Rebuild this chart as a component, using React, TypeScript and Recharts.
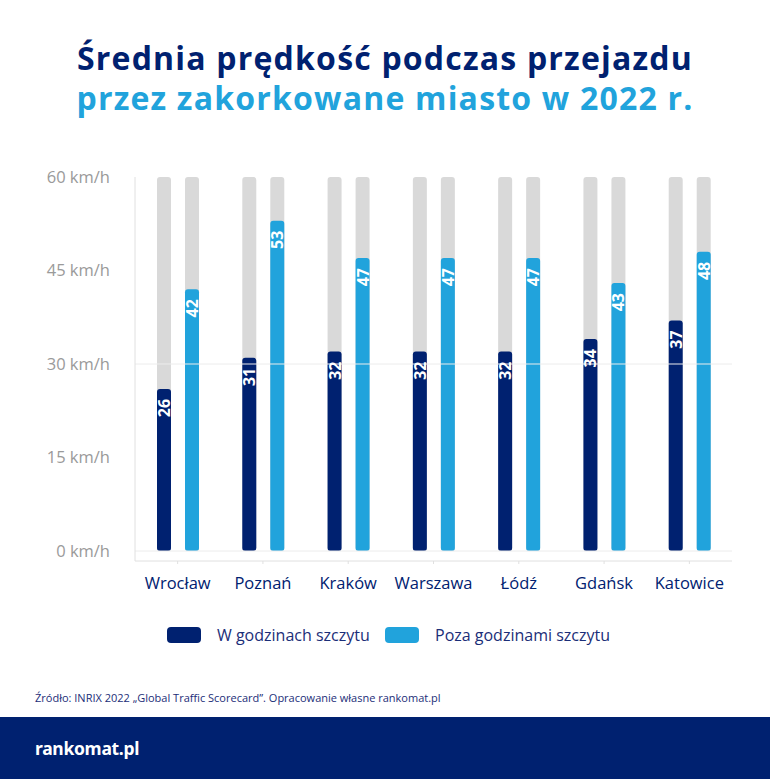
import {
  BarChart,
  Bar,
  XAxis,
  YAxis,
  ReferenceLine,
  LabelList
} from 'recharts'

const cities = ['Wrocław', 'Poznań', 'Kraków', 'Warszawa', 'Łódź', 'Gdańsk', 'Katowice'];
const peakSpeed = [26, 31, 32, 32, 32, 34, 37];
const offPeakSpeed = [42, 53, 47, 47, 47, 43, 48];
const yTicks = [0, 15, 30, 45, 60];

const NAVY = '#002170';
const BLUE = '#21a3dc';
const TRACK = '#d9d9d9';
const FONT = "'Open Sans', 'DejaVu Sans', sans-serif";

const data = cities.map((city, i) => ({
  city,
  peak: peakSpeed[i],
  offPeak: offPeakSpeed[i]
}));

// bar with a grey track behind it, running from the top of the plot (60) to the baseline
const trackBar = (color: string) => (props: any) => {
  const { x, y, width, height, background } = props;
  const bottom = y + height;
  return (
    <g>
      <rect x={x} y={background.y} width={width} height={bottom - background.y} rx={3} fill={TRACK} />
      <rect x={x} y={y} width={width} height={height} rx={3} fill={color} />
    </g>
  );
};

// vertical white value inside the top of the bar
const barLabel = (props: any) => {
  const { x, y, width, value } = props;
  const cx = x + width / 2;
  const ty = y + 10;
  return (
    <text
      x={cx}
      y={ty}
      transform={`rotate(-90 ${cx} ${ty})`}
      textAnchor="end"
      dominantBaseline="central"
      fill="#fff"
      fontSize={16}
      fontWeight={700}
      fontFamily={FONT}
    >
      {value}
    </text>
  );
};

const LegendItem = ({ color, text, left }: { color: string; text: string; left: number }) => (
  <div style={{ position: 'absolute', left, top: 0, display: 'flex', alignItems: 'center', whiteSpace: 'nowrap' }}>
    <div style={{ width: 34, height: 16, borderRadius: 4, background: color, marginRight: 16 }} />
    <span style={{ fontSize: 16, color: '#1b2e78' }}>{text}</span>
  </div>
);

export default function App() {
  return (
    <div
      style={{
        position: 'absolute',
        top: 0,
        left: 0,
        width: 770,
        height: 779,
        background: '#fff',
        overflow: 'hidden',
        fontFamily: FONT
      }}
    >
      <div style={{ position: 'absolute', top: 38, width: 770, textAlign: 'center', fontWeight: 700, fontSize: 32, letterSpacing: 1.2, lineHeight: '40px' }}>
        <div style={{ color: NAVY }}>Średnia prędkość podczas przejazdu</div>
        <div style={{ color: BLUE }}>przez zakorkowane miasto w 2022 r.</div>
      </div>

      <div style={{ position: 'absolute', top: 150, left: 0 }}>
        <BarChart
          width={770}
          height={460}
          data={data}
          margin={{ top: 27, right: 38, bottom: 19, left: 0 }}
          barSize={14}
          barGap={14}
        >
          <ReferenceLine y={30} stroke="#ececec" />
          <ReferenceLine y={0} stroke="#ececec" />
          <XAxis
            dataKey="city"
            height={30}
            axisLine={{ stroke: '#e0e0e0' }}
            tickLine={{ stroke: '#e0e0e0' }}
            tickSize={3}
            tickMargin={13}
            tick={{ fill: NAVY, fontSize: 16.5, fontFamily: FONT }}
          />
          <YAxis
            width={135}
            domain={[-1.6, 60]}
            ticks={yTicks}
            allowDataOverflow
            axisLine={{ stroke: '#e0e0e0' }}
            tickLine={false}
            tickSize={0}
            tickMargin={25}
            tickFormatter={(v: number) => `${v} km/h`}
            tick={{ fill: '#9a9a9a', fontSize: 16.5, fontFamily: FONT }}
          />
          <Bar dataKey="peak" fill={NAVY} shape={trackBar(NAVY)} isAnimationActive={false}>
            <LabelList dataKey="peak" content={barLabel} />
          </Bar>
          <Bar dataKey="offPeak" fill={BLUE} shape={trackBar(BLUE)} isAnimationActive={false}>
            <LabelList dataKey="offPeak" content={barLabel} />
          </Bar>
        </BarChart>
      </div>

      <div style={{ position: 'absolute', top: 624, left: 0, width: 770, height: 22 }}>
        <LegendItem color={NAVY} text="W godzinach szczytu" left={167} />
        <LegendItem color={BLUE} text="Poza godzinami szczytu" left={385} />
      </div>

      <div style={{ position: 'absolute', top: 690, left: 35, fontSize: 11, color: '#1b2e78' }}>
        Źródło: INRIX 2022 „Global Traffic Scorecard”. Opracowanie własne rankomat.pl
      </div>

      <div style={{ position: 'absolute', top: 717, left: 0, width: 770, height: 62, background: NAVY }}>
        <div style={{ position: 'absolute', left: 35, top: 19, color: '#fff', fontSize: 17.5, fontWeight: 700, fontFamily: "'Noto Sans', sans-serif", letterSpacing: -0.3 }}>
          rankomat.pl
        </div>
      </div>
    </div>
  );
}
